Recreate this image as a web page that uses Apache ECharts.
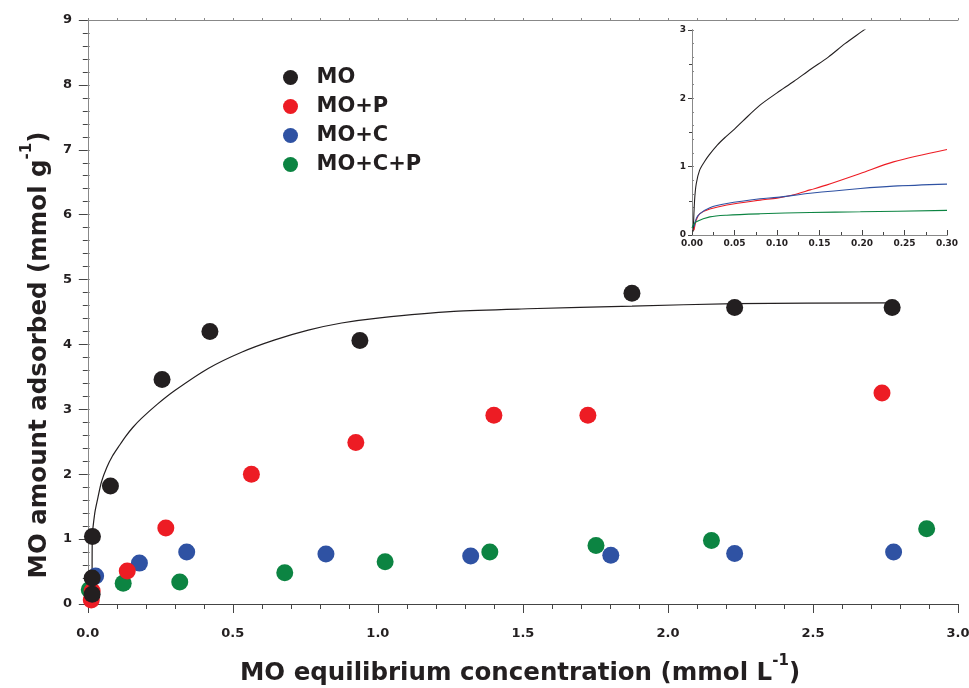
<!DOCTYPE html>
<html><head><meta charset="utf-8">
<script src="https://cdn.jsdelivr.net/npm/echarts@6/dist/echarts.min.js"></script>
<style>html,body{margin:0;padding:0;background:#fff}#c{width:969px;height:688px}</style>
</head><body><div id="c"></div>
<script>
// ---- data ----
const seriesNames = ['MO', 'MO+P', 'MO+C', 'MO+C+P'];

const moX = [0.015, 0.015, 0.016, 0.078, 0.256, 0.421, 0.938, 1.876, 2.230, 2.773];
const moY = [0.15, 0.40, 1.04, 1.82, 3.46, 4.20, 4.06, 4.79, 4.57, 4.57];

const mopX = [0.012, 0.015, 0.136, 0.269, 0.564, 0.924, 1.400, 1.724, 2.738];
const mopY = [0.06, 0.20, 0.51, 1.17, 2.00, 2.49, 2.91, 2.91, 3.25];

const mocX = [0.027, 0.178, 0.341, 0.821, 1.320, 1.803, 2.230, 2.778];
const mocY = [0.43, 0.63, 0.80, 0.77, 0.74, 0.75, 0.78, 0.80];

const mocpX = [0.005, 0.122, 0.317, 0.679, 1.025, 1.386, 1.752, 2.150, 2.892];
const mocpY = [0.22, 0.32, 0.34, 0.48, 0.65, 0.80, 0.90, 0.98, 1.16];

// fitted isotherm of MO (main plot)
const fitX = [0.0148, 0.0155, 0.024, 0.033, 0.047, 0.065, 0.085, 0.11, 0.13, 0.155, 0.185, 0.24, 0.30, 0.415, 0.53, 0.645, 0.76, 0.875, 1.007, 1.262, 1.517, 1.876, 2.233, 2.769];
const fitY = [0.40, 1.03, 1.40, 1.60, 1.88, 2.10, 2.28, 2.45, 2.58, 2.72, 2.86, 3.08, 3.29, 3.63, 3.88, 4.07, 4.22, 4.33, 4.41, 4.51, 4.55, 4.59, 4.63, 4.64];

// inset curves (0 - 0.30 mmol/L)
const inMoX = [0.0015, 0.003, 0.005, 0.009, 0.015, 0.02, 0.03, 0.04, 0.05, 0.06, 0.08, 0.10, 0.12, 0.14, 0.16, 0.18, 0.20, 0.21];
const inMoY = [0.05, 0.50, 0.75, 0.95, 1.08, 1.17, 1.32, 1.44, 1.55, 1.67, 1.90, 2.08, 2.25, 2.43, 2.60, 2.80, 2.98, 3.07];

const inMopX = [0.0024, 0.005, 0.009, 0.021, 0.041, 0.080, 0.100, 0.120, 0.139, 0.158, 0.198, 0.237, 0.300];
const inMopY = [0.07, 0.22, 0.31, 0.38, 0.44, 0.51, 0.54, 0.59, 0.66, 0.73, 0.90, 1.07, 1.25];

const inMocX = [0.0024, 0.005, 0.009, 0.021, 0.041, 0.080, 0.100, 0.139, 0.198, 0.237, 0.300];
const inMocY = [0.12, 0.24, 0.31, 0.40, 0.46, 0.53, 0.55, 0.61, 0.68, 0.715, 0.745];

const inMocpX = [0.0, 0.0016, 0.005, 0.021, 0.041, 0.080, 0.139, 0.198, 0.300];
const inMocpY = [0.10, 0.15, 0.195, 0.265, 0.29, 0.31, 0.33, 0.34, 0.36];

const xMajorTicks = [0, 0.5, 1.0, 1.5, 2.0, 2.5, 3.0];
const xMinorTicks = [0, 0.1, 0.2, 0.3, 0.4, 0.5, 0.6, 0.7, 0.8, 0.9, 1.0, 1.1, 1.2, 1.3, 1.4, 1.5, 1.6, 1.7, 1.8, 1.9, 2.0, 2.1, 2.2, 2.3, 2.4, 2.5, 2.6, 2.7, 2.8, 2.9, 3.0];

const colors = ['#231f20', '#ed1c24', '#2f52a3', '#0c8442'];

// ---- chart ----
const zip = (xs, ys) => xs.map((x, i) => [x, ys[i]]);
const chart = echarts.init(document.getElementById('c'), null, {renderer: 'canvas'});
const lab = {fontFamily: 'DejaVu Sans', fontWeight: 'bold', color: '#231f20'};
const axLine = {show: true, lineStyle: {color: '#444', width: 1}};
const frameLine = {show: true, lineStyle: {color: '#888', width: 1}};
const titleRich = {
  a: {fontFamily: 'DejaVu Sans', fontWeight: 'bold', fontSize: 24.5, color: '#231f20', verticalAlign: 'bottom', lineHeight: 32},
  s: {fontFamily: 'DejaVu Sans', fontWeight: 'bold', fontSize: 15, color: '#231f20', verticalAlign: 'top', lineHeight: 32, padding: [0, 0, 13, 0]}
};

const option = {
  animation: false,
  backgroundColor: '#fff',
  grid: [
    {left: 82, right: 11, top: 20, bottom: 84, containLabel: false, outerBoundsMode: 'none'},
    {left: 692, right: 22, top: 30, bottom: 453, containLabel: false, outerBoundsMode: 'none'}
  ],
  legend: {
    data: seriesNames,
    orient: 'vertical',
    left: 278, top: 62,
    itemWidth: 36, itemHeight: 15, itemGap: 8,
    icon: 'circle',
    textStyle: {fontFamily: 'DejaVu Sans', fontWeight: 'bold', fontSize: 21, color: '#231f20', lineHeight: 21, padding: [0, 0, 0, 3]}
  },
  xAxis: [
    { gridIndex: 0, type: 'value', position: 'bottom', min: -0.02, max: 3.0,
      axisLine: axLine, splitLine: {show: false},
      axisTick: {show: true, length: 9, customValues: xMajorTicks, lineStyle: {color: '#444'}},
      axisLabel: {show: true, customValues: xMajorTicks, margin: 23, fontSize: 13, ...lab,
        formatter: v => v.toFixed(1)},
      name: '{a|MO equilibrium concentration (mmol L}{s|-1}{a|)}',
      nameLocation: 'middle', nameGap: 50,
      nameTextStyle: {rich: titleRich}
    },
    { gridIndex: 0, type: 'value', position: 'bottom', min: -0.02, max: 3.0,
      axisLine: {show: false}, splitLine: {show: false},
      axisTick: {show: true, length: 5, customValues: xMinorTicks, lineStyle: {color: '#444'}},
      axisLabel: {show: false}
    },
    { gridIndex: 0, type: 'value', position: 'top', min: -0.02, max: 3.0,
      axisLine: frameLine, splitLine: {show: false},
      axisTick: {show: true, length: 2, customValues: xMinorTicks, lineStyle: {color: '#888'}},
      axisLabel: {show: false}
    },
    { gridIndex: 1, type: 'value', position: 'bottom', min: 0, max: 0.3, interval: 0.05,
      axisLine: axLine, splitLine: {show: false},
      axisTick: {show: true, inside: true, length: 5, lineStyle: {color: '#444'}},
      minorTick: {show: true, splitNumber: 2, length: 3, lineStyle: {color: '#444'}},
      axisLabel: {show: true, margin: 4, fontSize: 9, ...lab, formatter: v => v.toFixed(2)}
    },
    { gridIndex: 1, type: 'value', position: 'top', min: 0, max: 0.3,
      axisLine: frameLine, splitLine: {show: false}, axisTick: {show: false}, axisLabel: {show: false}
    }
  ],
  yAxis: [
    { gridIndex: 0, type: 'value', position: 'left', min: 0, max: 9, interval: 1,
      axisLine: axLine, splitLine: {show: false},
      axisTick: {show: true, length: 9, lineStyle: {color: '#444'}},
      minorTick: {show: true, splitNumber: 5, length: 5, lineStyle: {color: '#444'}},
      axisLabel: {show: true, margin: 10, fontSize: 13, ...lab},
      name: '{a|MO amount adsorbed (mmol g}{s|-1}{a|)}',
      nameLocation: 'middle', nameGap: 28, nameRotate: 90,
      nameTextStyle: {rich: titleRich, padding: [0, 86, 0, 0]}
    },
    { gridIndex: 0, type: 'value', position: 'right', min: 0, max: 9, interval: 1,
      axisLine: frameLine, splitLine: {show: false},
      axisTick: {show: true, length: 2, lineStyle: {color: '#888'}},
      minorTick: {show: true, splitNumber: 5, length: 2, lineStyle: {color: '#888'}},
      axisLabel: {show: false}
    },
    { gridIndex: 1, type: 'value', position: 'left', min: 0, max: 3, interval: 1,
      axisLine: axLine, splitLine: {show: false},
      axisTick: {show: true, length: 4, lineStyle: {color: '#444'}},
      minorTick: {show: true, splitNumber: 2, length: 3, lineStyle: {color: '#444'}},
      axisLabel: {show: true, margin: 6, fontSize: 9, ...lab}
    },
    { gridIndex: 1, type: 'value', position: 'right', min: 0, max: 3, interval: 1,
      axisLine: frameLine, splitLine: {show: false},
      axisTick: {show: true, length: 2, lineStyle: {color: '#888'}},
      minorTick: {show: true, splitNumber: 5, length: 2, lineStyle: {color: '#888'}},
      axisLabel: {show: false}
    }
  ],
  series: [
    { name: 'fit', type: 'line', xAxisIndex: 0, yAxisIndex: 0, data: zip(fitX, fitY),
      showSymbol: false, symbol: 'none', smooth: 0.25, lineStyle: {color: '#231f20', width: 1.2}, z: 2 },
    { name: seriesNames[3], type: 'scatter', xAxisIndex: 0, yAxisIndex: 0, data: zip(mocpX, mocpY),
      symbolSize: 17, itemStyle: {color: colors[3], opacity: 1}, z: 3 },
    { name: seriesNames[2], type: 'scatter', xAxisIndex: 0, yAxisIndex: 0, data: zip(mocX, mocY),
      symbolSize: 17, itemStyle: {color: colors[2], opacity: 1}, z: 3 },
    { name: seriesNames[1], type: 'scatter', xAxisIndex: 0, yAxisIndex: 0, data: zip(mopX, mopY),
      symbolSize: 17, itemStyle: {color: colors[1], opacity: 1}, z: 3 },
    { name: seriesNames[0], type: 'scatter', xAxisIndex: 0, yAxisIndex: 0, data: zip(moX, moY),
      symbolSize: 17, itemStyle: {color: colors[0], opacity: 1}, z: 4 },
    { name: 'in0', type: 'line', xAxisIndex: 3, yAxisIndex: 2, data: zip(inMoX, inMoY),
      symbol: 'none', smooth: 0.3, clip: true, lineStyle: {color: '#231f20', width: 1.1} },
    { name: 'in1', type: 'line', xAxisIndex: 3, yAxisIndex: 2, data: zip(inMopX, inMopY),
      symbol: 'none', smooth: 0.3, clip: true, lineStyle: {color: '#ed1c24', width: 1.1} },
    { name: 'in2', type: 'line', xAxisIndex: 3, yAxisIndex: 2, data: zip(inMocX, inMocY),
      symbol: 'none', smooth: 0.3, clip: true, lineStyle: {color: '#2f52a3', width: 1.1} },
    { name: 'in3', type: 'line', xAxisIndex: 3, yAxisIndex: 2, data: zip(inMocpX, inMocpY),
      symbol: 'none', smooth: 0.3, clip: true, lineStyle: {color: '#0c8442', width: 1.1} }
  ]
};
chart.setOption(option);
</script>
</body></html>
